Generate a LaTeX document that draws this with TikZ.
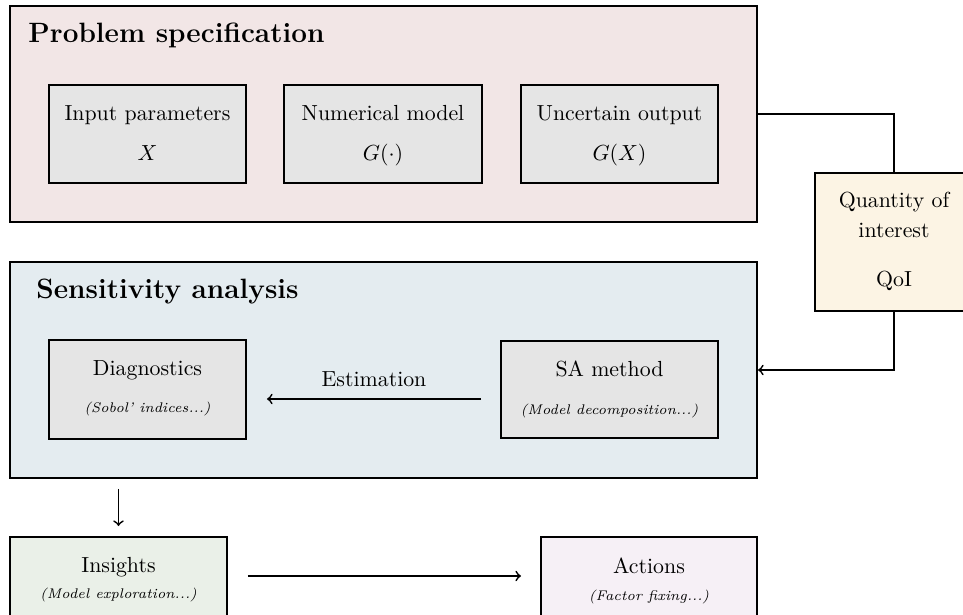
\documentclass[tikz,border=0pt]{standalone}
\usetikzlibrary{fit,calc}
\definecolor{psfill}{RGB}{242,230,230}
\definecolor{safill}{RGB}{228,236,240}
\definecolor{boxgray}{RGB}{229,229,229}
\definecolor{qoifill}{RGB}{252,244,228}
\definecolor{insfill}{RGB}{234,240,232}
\definecolor{actfill}{RGB}{246,240,246}
\tikzset{
  outerbox/.style={draw=black, line width=0.9pt, inner sep=0pt},
  innerbox/.style={draw=black, line width=0.9pt, fill=boxgray, inner sep=0pt},
  boxtext/.style={anchor=base, inner sep=0pt, font=\normalsize},
  subtext/.style={anchor=base, inner sep=0pt, font=\fontsize{6.4}{8}\selectfont\itshape},
  titletext/.style={anchor=base west, inner sep=0pt, font=\fontsize{12.8}{15}\selectfont\bfseries},
  conn/.style={line width=0.8pt},
}
\begin{document}
\begin{tikzpicture}[x=0.0161cm,y=-0.0161cm]
\useasboundingbox (0,0) rectangle (963,615);
% outer boxes
\node[outerbox, fill=psfill, fit={(10,6) (757,222)}] (ps) {};
\node[outerbox, fill=safill, fit={(10,262) (757,478)}] (sa) {};
\node[titletext] (pstitle) at (28,43) {Problem specification};
\node[titletext] (satitle) at (36,299) {Sensitivity analysis};
% problem specification boxes
\node[innerbox, fit={(49,85) (246,183)}] (inp) {};
\node[boxtext] (inpa) at (147.5,121) {Input parameters};
\node[boxtext] (inpb) at (147.5,161) {$X$};
\node[innerbox, fit={(284,85) (482,183)}] (num) {};
\node[boxtext] (numa) at (383,121) {Numerical model};
\node[boxtext] (numb) at (383,161) {$G(\cdot)$};
\node[innerbox, fit={(521,85) (718,183)}] (unc) {};
\node[boxtext] (unca) at (619.5,121) {Uncertain output};
\node[boxtext] (uncb) at (619.5,161) {$G(X)$};
% QoI
\node[outerbox, fill=qoifill, fit={(815,173) (973,311)}] (qoi) {};
\node[boxtext] (qoia) at (894,208) {Quantity of};
\node[boxtext] (qoib) at (894,238) {interest};
\node[boxtext] (qoic) at (894,287) {QoI};
% sensitivity analysis boxes
\node[innerbox, fit={(49,340) (246,439)}] (diag) {};
\node[boxtext] (diaga) at (147.5,376) {Diagnostics};
\node[subtext] (diagb) at (147.5,413) {(Sobol' indices...)};
\node[innerbox, fit={(501,341) (718,438)}] (sam) {};
\node[boxtext] (sama) at (609.5,377) {SA method};
\node[subtext] (samb) at (609.5,414) {(Model decomposition...)};
% bottom boxes
\node[outerbox, fill=insfill, fit={(10,537) (227,635)}] (ins) {};
\node[boxtext] (insa) at (118.5,572) {Insights};
\node[subtext] (insb) at (118.5,598) {(Model exploration...)};
\node[outerbox, fill=actfill, fit={(541,537) (757,635)}] (act) {};
\node[boxtext] (acta) at (649,573) {Actions};
\node[subtext] (actb) at (649,600) {(Factor fixing...)};
% connectors
\draw[conn] (ps.east) -| (qoi.north);
\draw[conn,->] (qoi.south) |- (sa.east);
\draw[conn,->] ($(sam.west)+(-19,9.5)$) -- ($(diag.east)+(20,9.5)$)
  node[midway, anchor=base, inner sep=0pt, yshift=5.5pt] (estl) {Estimation};
\coordinate (dtop) at (ins.north |- sa.south);
\draw[conn,->] ($(dtop)+(0,10)$) -- ($(ins.north)+(0,-10)$);
\draw[conn,->] ($(ins.east)+(20,-10)$) -- ($(act.west)+(-19,-10)$);
\end{tikzpicture}
\end{document}
